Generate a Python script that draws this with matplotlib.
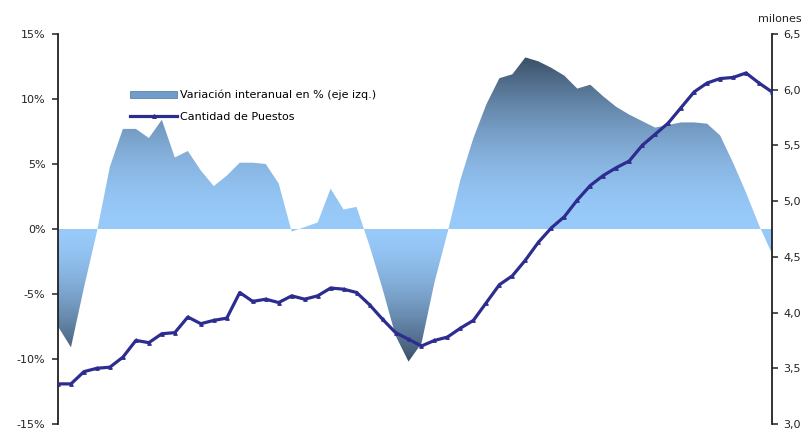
import numpy as np
import matplotlib
matplotlib.use("Agg")
import matplotlib.pyplot as plt
from matplotlib.patches import Patch
from matplotlib.lines import Line2D

# series trimestrales
trimestres = np.arange(56)

variacion = [-7.5, -9.1, -4.5, -0.2, 4.8, 7.7, 7.7, 7.0, 8.4, 5.5,
             6.0, 4.5, 3.3, 4.1, 5.1, 5.1, 5.0, 3.5, -0.2, 0.15,
             0.5, 3.1, 1.5, 1.7, -1.3, -4.6, -8.2, -10.2, -8.8, -4.1,
             -0.3, 3.8, 7.0, 9.6, 11.6, 11.9, 13.2, 12.9, 12.4, 11.8,
             10.8, 11.1, 10.2, 9.4, 8.8, 8.3, 7.8, 8.0, 8.2, 8.2,
             8.1, 7.2, 5.1, 2.8, 0.3, -1.9]

puestos = [3.36, 3.36, 3.47, 3.50, 3.51, 3.60, 3.75, 3.73, 3.81, 3.82,
           3.96, 3.90, 3.93, 3.95, 4.18, 4.10, 4.12, 4.09, 4.15, 4.12,
           4.15, 4.22, 4.21, 4.18, 4.07, 3.94, 3.82, 3.76, 3.70, 3.75,
           3.78, 3.86, 3.93, 4.09, 4.25, 4.33, 4.47, 4.63, 4.76, 4.86,
           5.01, 5.14, 5.23, 5.30, 5.36, 5.50, 5.60, 5.70, 5.84, 5.98,
           6.06, 6.10, 6.11, 6.15, 6.06, 5.98]

ticks_izq = [-15, -10, -5, 0, 5, 10, 15]
ticks_der = [3.0, 3.5, 4.0, 4.5, 5.0, 5.5, 6.0, 6.5]

plt.rcParams['font.family'] = 'DejaVu Sans'

fig = plt.figure(figsize=(8.1, 4.3), dpi=100)
ax = fig.add_axes([58/810, 6/430, 714/810, 390/430])

# area con degradado: claro cerca de 0, oscuro hacia los extremos
area = ax.fill_between(trimestres, 0, variacion, facecolor='none', edgecolor='none')
ys = np.linspace(-15, 15, 800)
f = np.where(ys >= 0, (ys / 13.3) ** 1.8, (-ys / 10.3) ** 1.6).clip(0, 1)
claro = np.array([152, 202, 250]) / 255
oscuro = np.array([58, 78, 102]) / 255
cols = claro + (oscuro - claro) * f[:, None]
img = np.repeat(cols[:, None, :], 2, axis=1)
im = ax.imshow(img, extent=[0, 55, -15, 15], origin='lower', aspect='auto',
               zorder=1, interpolation='bilinear')
im.set_clip_path(area.get_paths()[0], ax.transData)

ax.set_xlim(0, 55)
ax.set_ylim(-15, 15)
ax.set_xticks([])
ax.set_yticks(ticks_izq)
ax.set_yticklabels([f"{v}%" for v in ticks_izq])
for s in ['top', 'right', 'bottom']:
    ax.spines[s].set_visible(False)
ax.spines['left'].set_linewidth(1.3)
ax.spines['left'].set_color('#222222')
ax.tick_params(axis='y', direction='out', length=4, width=1.1, pad=5,
               labelsize=8, colors='#222222')

ax2 = ax.twinx()
ax2.plot(trimestres, puestos, color='#2d2d8f', lw=2.3, marker='^', ms=2.6,
         mew=0.8, zorder=3)
ax2.set_xlim(0, 55)
ax2.set_ylim(3.0, 6.5)
ax2.set_yticks(ticks_der)
ax2.set_yticklabels([f"{v:.1f}".replace('.', ',') for v in ticks_der])
for s in ['top', 'left', 'bottom']:
    ax2.spines[s].set_visible(False)
ax2.spines['right'].set_linewidth(1.3)
ax2.spines['right'].set_color('#222222')
ax2.tick_params(axis='y', direction='out', length=4, width=1.1, pad=4,
                labelsize=8, colors='#222222')

fig.text(780/810, 1 - 19/430, "milones", ha='center', va='center',
         fontsize=8, color='#222222')

handles = [Patch(facecolor='#6f9ccc', edgecolor='#4f7299', linewidth=0.5),
           Line2D([], [], color='#2d2d8f', lw=2.3, marker='^', ms=2.6)]
labels = ["Variación interanual en % (eje izq.)", "Cantidad de Puestos"]
ax2.legend(handles, labels, loc='upper left', bbox_to_anchor=(0.095, 0.868),
           frameon=False, fontsize=8, handlelength=4.2, handleheight=0.7,
           handletextpad=0.25, labelspacing=1.05, borderaxespad=0)

fig.savefig("out.png", dpi=100)
